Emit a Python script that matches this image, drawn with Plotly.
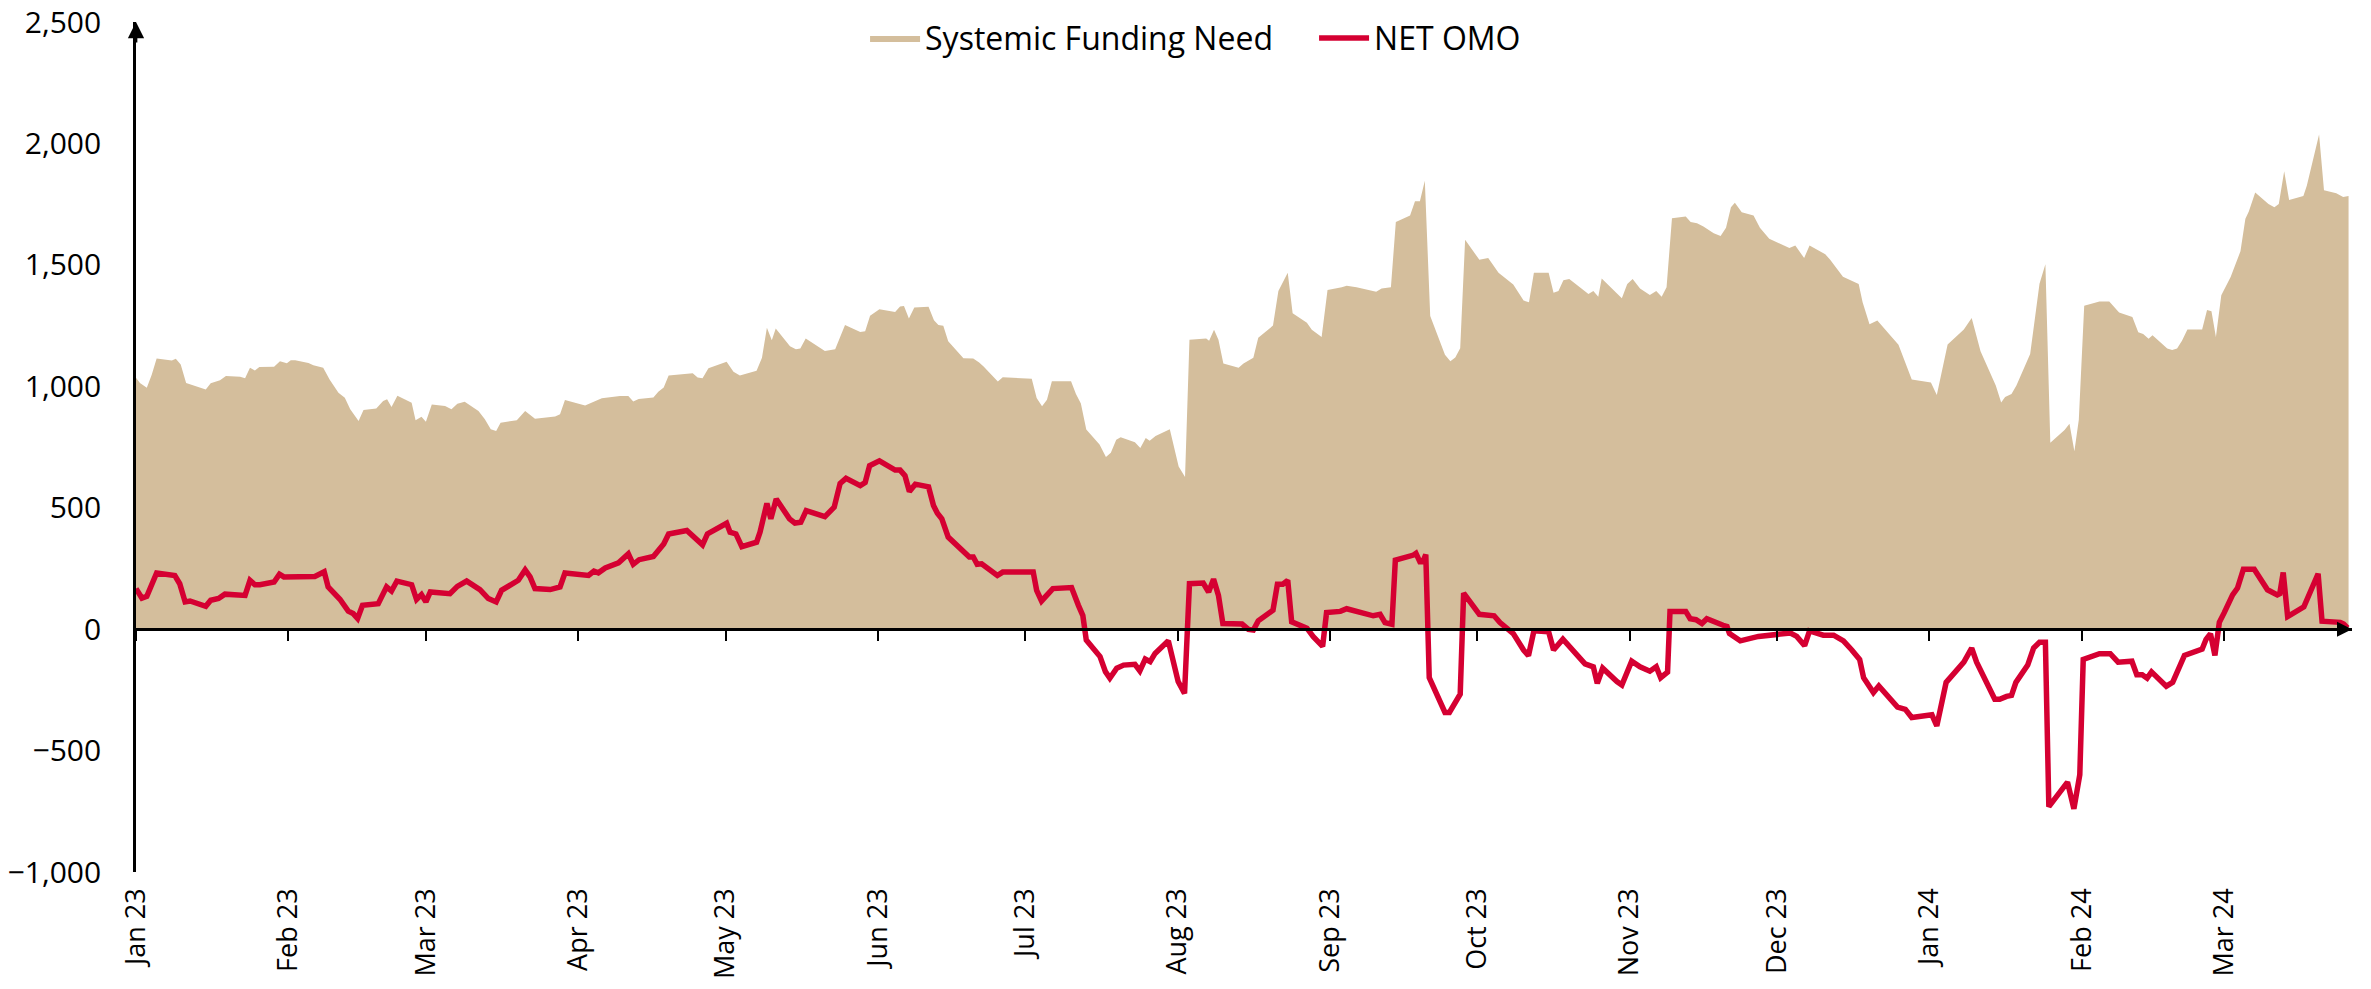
import pandas as pd
import plotly.graph_objects as go

START = pd.Timestamp("2023-01-01")

# Systemic Funding Need (day offset from 1 Jan 2023, value)
fund_days = [0, 0.8, 2.2, 3.2, 4.2, 7.3, 8.1, 9.1, 10.2, 14.2, 15.2, 17.1, 18.3, 21.2, 22.2, 23.2, 24.2, 25.1,
             28.1, 29.3, 30.7, 31.5, 32.4, 35.1, 36.1, 38.1, 39.4, 41.2, 42.5, 43.6, 45.3, 46.3, 48.9, 50.3, 51.1,
             52.0, 53.2, 56.1, 56.9, 58.1, 59.0, 60.2, 62.9, 64.2, 65.4, 66.9, 69.7, 71.0, 72.2, 73.3, 74.2, 77.5,
             79.2, 81.2, 85.3, 86.3, 87.3, 91.4, 94.8, 98.5, 100.2, 101.2, 102.3, 105.3, 106.3, 107.4, 108.4, 113.3,
             114.3, 115.3, 116.5, 120.2, 121.6, 122.9, 126.3, 127.4, 128.4, 129.4, 130.2, 133.1, 134.3, 135.2, 136.3,
             140.2, 142.3, 144.3, 147.4, 148.4, 149.4, 151.3, 154.5, 155.5, 156.3, 157.3, 158.4, 161.3, 162.4, 163.3,
             164.3, 165.3, 168.4, 170.4, 171.6, 172.5, 175.4, 176.4, 182.3, 183.3, 184.4, 185.4, 186.4, 190.3, 191.3,
             192.3, 193.4, 196.1, 197.4, 198.4, 199.5, 200.4, 203.3, 204.4, 205.5, 206.3, 207.5, 210.4, 212.2, 213.5,
             214.4, 217.8, 218.4, 219.4, 220.3, 221.3, 224.4, 225.4, 227.4, 228.4, 231.4, 232.5, 234.4, 235.4, 238.3,
             239.3, 241.3, 242.5, 245.4, 246.4, 248.4, 252.4, 253.5, 255.4, 256.4, 259.3, 260.3, 261.3, 262.3, 263.4,
             266.4, 267.5, 268.5, 269.5, 270.5, 273.4, 275.2, 277.3, 280.3, 282.4, 283.5, 284.5, 287.5, 288.5, 289.5,
             290.5, 291.7, 295.6, 296.6, 297.6, 298.3, 302.4, 303.5, 304.6, 306.1, 308.1, 309.4, 310.5, 311.5, 312.6,
             315.4, 316.4, 317.7, 319.0, 321.1, 322.5, 323.6, 324.6, 325.4, 326.8, 329.2, 330.5, 332.4, 333.6, 336.5,
             337.7, 339.5, 340.6, 343.8, 344.8, 347.4, 350.6, 351.4, 352.8, 354.4, 356.7, 358.7, 361.4, 365.3, 366.5,
             368.7, 372.0, 373.6, 375.4, 378.5, 379.6, 380.4, 381.7, 382.7, 385.5, 387.4, 388.6, 389.6, 392.5, 393.5,
             394.5, 395.4, 396.5, 399.6, 401.6, 402.4, 403.6, 406.3, 407.5, 408.5, 409.6, 410.4, 413.4, 414.4, 415.4,
             416.4, 417.5, 420.5, 421.5, 422.4, 423.3, 424.4, 426.3, 428.3, 429.3, 430.0, 431.3, 434.0, 435.2, 436.1,
             437.2, 438.2, 441.1, 441.8, 444.3, 445.3, 447.8, 449.2, 450.3]
fund_values = [1035, 1014, 994, 1048, 1114, 1106, 1113, 1090, 1014, 987, 1012, 1025, 1042, 1039, 1033, 1076, 1065, 1079,
               1080, 1103, 1095, 1107, 1107, 1096, 1087, 1076, 1028, 973, 953, 905, 857, 902, 909, 939, 947,
               915, 961, 932, 860, 875, 854, 925, 919, 905, 928, 936, 898, 864, 823, 816, 850, 860,
               898, 866, 876, 885, 944, 921, 951, 960, 960, 937, 948, 954, 978, 995, 1044, 1054,
               1036, 1033, 1074, 1101, 1060, 1044, 1064, 1118, 1241, 1190, 1238, 1165, 1153, 1156, 1197,
               1145, 1153, 1252, 1224, 1227, 1290, 1317, 1306, 1329, 1331, 1279, 1324, 1327, 1272, 1252,
               1249, 1185, 1115, 1114, 1098, 1081, 1020, 1037, 1031, 952, 918, 945, 1021, 1021, 968,
               929, 822, 760, 709, 726, 780, 790, 770, 746, 787, 776, 795, 823, 670, 626,
               1192, 1197, 1188, 1233, 1192, 1094, 1076, 1094, 1117, 1200, 1250, 1392, 1467, 1301, 1262,
               1233, 1203, 1396, 1408, 1414, 1408, 1389, 1403, 1408, 1676, 1703, 1762, 1762, 1846, 1289,
               1130, 1103, 1119, 1157, 1603, 1521, 1528, 1467, 1419, 1353, 1346, 1467, 1467, 1385, 1392,
               1437, 1442, 1380, 1392, 1369, 1444, 1362, 1421, 1442, 1403, 1376, 1392, 1369, 1408, 1692,
               1699, 1676, 1671, 1658, 1630, 1619, 1653, 1737, 1756, 1717, 1703, 1653, 1608, 1596, 1569,
               1580, 1528, 1580, 1544, 1521, 1451, 1421, 1346, 1255, 1271, 1217, 1171, 1028, 1016, 964,
               1172, 1234, 1281, 1144, 1003, 933, 956, 968, 1003, 1133, 1422, 1502, 768, 820, 846,
               733, 862, 1332, 1349, 1349, 1332, 1304, 1285, 1222, 1215, 1196, 1210, 1156, 1149, 1156,
               1187, 1234, 1234, 1314, 1309, 1203, 1375, 1450, 1556, 1690, 1720, 1798, 1751, 1737, 1751,
               1885, 1767, 1784, 1826, 2037, 1807, 1795, 1779, 1784]

# NET OMO (day offset from 1 Jan 2023, value)
omo_days = [0, 1.2, 2.2, 4.2, 7.9, 8.9, 10.0, 11.0, 14.2, 15.2, 16.8, 18.1, 22.2, 23.2, 24.2, 25.2, 28.1, 29.2, 30.1,
            33.4, 36.4, 38.3, 39.1, 41.5, 43.2, 44.2, 45.1, 46.1, 49.3, 51.0, 52.0, 53.1, 56.1, 57.1, 58.1, 59.0,
            59.9, 63.9, 65.4, 67.3, 70.0, 71.7, 73.3, 74.4, 77.8, 79.2, 80.2, 81.2, 84.3, 86.3, 87.3, 92.1, 93.2,
            94.1, 95.5, 98.2, 100.2, 101.2, 102.4, 105.3, 107.4, 108.4, 112.1, 115.3, 116.3, 120.2, 120.9, 122.1,
            123.3, 126.3, 127.0, 128.4, 129.2, 130.3, 133.0, 134.1, 135.3, 136.4, 140.2, 142.1, 143.3, 144.5, 147.4,
            148.4, 149.3, 151.3, 154.5, 155.5, 156.5, 157.4, 158.6, 161.3, 162.3, 163.1, 164.0, 165.3, 168.4, 169.6,
            170.4, 171.2, 172.1, 175.3, 176.4, 182.6, 183.3, 184.3, 186.6, 190.4, 191.8, 192.7, 193.4, 196.2, 197.3,
            198.2, 199.6, 201.0, 203.3, 204.3, 205.4, 206.4, 207.4, 210.1, 212.1, 213.4, 214.4, 217.2, 218.3, 219.3,
            220.3, 221.2, 225.1, 226.4, 227.4, 228.4, 231.4, 232.3, 233.4, 234.4, 235.2, 238.3, 239.6, 241.5, 242.3,
            245.1, 246.4, 248.4, 251.8, 253.2, 254.2, 255.6, 256.3, 260.0, 260.5, 261.3, 261.9, 262.5, 263.2, 266.4,
            267.3, 269.5, 270.2, 273.4, 276.4, 277.6, 280.3, 282.4, 283.4, 284.5, 287.5, 288.5, 290.4, 294.9, 296.6,
            297.4, 298.5, 301.4, 302.4, 304.4, 306.1, 308.1, 309.4, 310.3, 311.7, 312.2, 315.4, 316.3, 317.5, 318.7,
            319.7, 323.0, 323.8, 324.3, 326.5, 330.2, 332.6, 336.7, 338.0, 339.6, 340.6, 343.4, 345.5, 347.5, 349.2,
            350.8, 351.6, 353.6, 354.7, 358.5, 360.1, 361.4, 365.5, 366.5, 368.4, 372.0, 373.6, 374.6, 378.3, 379.3,
            380.7, 381.7, 382.6, 385.0, 386.2, 387.4, 388.6, 389.3, 393.1, 393.6, 394.4, 395.6, 396.3, 399.6, 401.8,
            403.4, 406.2, 407.2, 408.3, 409.3, 410.2, 413.2, 414.5, 416.9, 417.9, 420.5, 421.3, 422.2, 423.1, 424.0,
            425.0, 426.7, 427.7, 428.9, 431.1, 433.8, 435.8, 436.3, 437.0, 437.9, 441.2, 442.4, 444.1, 444.9, 448.6,
            449.3, 450.1]
omo_values = [167, 128, 135, 231, 221, 187, 112, 116, 94, 119, 126, 144, 139, 201, 183, 183, 194, 226, 215,
              219, 217, 236, 174, 123, 74, 64, 44, 98, 105, 174, 157, 198, 183, 122, 142, 112,
              153, 146, 176, 198, 163, 126, 112, 160, 201, 244, 215, 167, 163, 174, 231, 221, 239,
              232, 252, 273, 310, 267, 286, 299, 351, 392, 406, 347, 392, 436, 399, 392,
              340, 358, 399, 518, 454, 536, 454, 437, 440, 488, 463, 502, 600, 621, 591,
              604, 673, 693, 655, 655, 632, 567, 597, 586, 509, 477, 454, 379, 317, 297,
              297, 267, 269, 221, 235, 235, 160, 116, 167, 171, 98, 56, -45, -113, -175,
              -202, -161, -148, -145, -172, -123, -134, -100, -48, -216, -265, 187, 190, 153, 206,
              139, 23, 21, -1, -4, 34, 78, 185, 185, 201, 30, 4, -31, -71, 68,
              73, 84, 73, 55, 61, 27, 20, 284, 305, 312, 277, 277, 307, -200, -343,
              -343, -268, 148, 61, 55, 27, -18, -86, -109, -7, -11, -86, -41, -143, -155,
              -223, -161, -216, -230, -132, -155, -173, -155, -200, -177, 73, 73, 43, 39, 23,
              43, 16, 11, -18, -48, -30, -23, -16, -30, -68, -7, -25, -25, -48, -86,
              -125, -200, -261, -234, -321, -330, -364, -353, -398, -219, -136, -78, -136, -289, -289,
              -277, -273, -219, -148, -78, -54, -54, -731, -630, -677, -740, -599, -125, -101, -101,
              -136, -132, -188, -188, -202, -176, -235, -219, -108, -101, -82, -42, -19, -108, 28,
              68, 141, 169, 247, 247, 162, 141, 146, 233, 52, 92, 146, 228, 33, 28,
              21, 5]

month_ticks = ["2023-01-01", "2023-02-01", "2023-03-01", "2023-04-01", "2023-05-01", "2023-06-01",
               "2023-07-01", "2023-08-01", "2023-09-01", "2023-10-01", "2023-11-01", "2023-12-01",
               "2024-01-01", "2024-02-01", "2024-03-01"]
month_labels = ["Jan 23", "Feb 23", "Mar 23", "Apr 23", "May 23", "Jun 23", "Jul 23", "Aug 23",
                "Sep 23", "Oct 23", "Nov 23", "Dec 23", "Jan 24", "Feb 24", "Mar 24"]
y_ticks = [-1000, -500, 0, 500, 1000, 1500, 2000, 2500]

FUND_COLOR = "rgb(212,190,156)"
OMO_COLOR = "rgb(213,0,50)"
FONT = "Open Sans"

fund_x = START + pd.to_timedelta(fund_days, unit="D")
omo_x = START + pd.to_timedelta(omo_days, unit="D")
x_end = START + pd.Timedelta(days=451)
x_range = [START, x_end]

fig = go.Figure()
fig.add_trace(go.Scatter(
    x=fund_x, y=fund_values, name="Systemic Funding Need", mode="lines",
    fill="tozeroy", fillcolor=FUND_COLOR, line=dict(width=0, color=FUND_COLOR),
    xaxis="x", yaxis="y"))
fig.add_trace(go.Scatter(
    x=omo_x, y=omo_values, name="NET OMO", mode="lines",
    line=dict(width=5.5, color=OMO_COLOR), xaxis="x2", yaxis="y"))

fig.update_layout(
    width=2371, height=989,
    margin=dict(l=136, r=19, t=22, b=117, autoexpand=False),
    paper_bgcolor="white", plot_bgcolor="white",
    font=dict(family=FONT, color="black"),
    showlegend=True,
    legend=dict(orientation="h", x=0.329, xanchor="left", y=0.981, yanchor="middle",
                font=dict(size=32, family=FONT), itemwidth=50, bgcolor="rgba(0,0,0,0)",
                traceorder="normal", entrywidth=384, entrywidthmode="pixels"),
    xaxis=dict(type="date", range=x_range, tickvals=month_ticks, ticktext=month_labels,
               tickangle=-90, ticks="", showline=False, showgrid=False, zeroline=False,
               automargin=False, ticklabeloverflow="allow",
               tickfont=dict(size=27, family=FONT), ticklabelstandoff=10),
    xaxis2=dict(type="date", range=x_range, overlaying="x", anchor="free", position=1000 / 3500,
                tickvals=month_ticks, showticklabels=False, ticks="outside", ticklen=10, tickwidth=2,
                tickcolor="black", showline=True, linecolor="black", linewidth=2.5,
                showgrid=False, zeroline=False, automargin=False),
    yaxis=dict(range=[-1000, 2500], tickvals=y_ticks, tickformat=",d", showgrid=False,
               zeroline=False, showline=True, linecolor="black", linewidth=2.7, ticks="",
               automargin=False, ticklabeloverflow="allow",
               tickfont=dict(size=30, family=FONT), ticklabelstandoff=26),
)

# axis arrow heads
fig.add_annotation(x=START, y=2500, xref="x", yref="y", ax=0, ay=22, axref="pixel", ayref="pixel",
                   showarrow=True, arrowhead=2, arrowsize=1.2, arrowwidth=2.7, arrowcolor="black", text="")
fig.add_annotation(x=x_end, y=0, xref="x", yref="y", ax=-22, ay=0, axref="pixel", ayref="pixel",
                   showarrow=True, arrowhead=2, arrowsize=1.2, arrowwidth=2.5, arrowcolor="black", text="")

fig.write_html("out.html", config={"displayModeBar": False},
               post_script="document.body.style.margin='0px';")
